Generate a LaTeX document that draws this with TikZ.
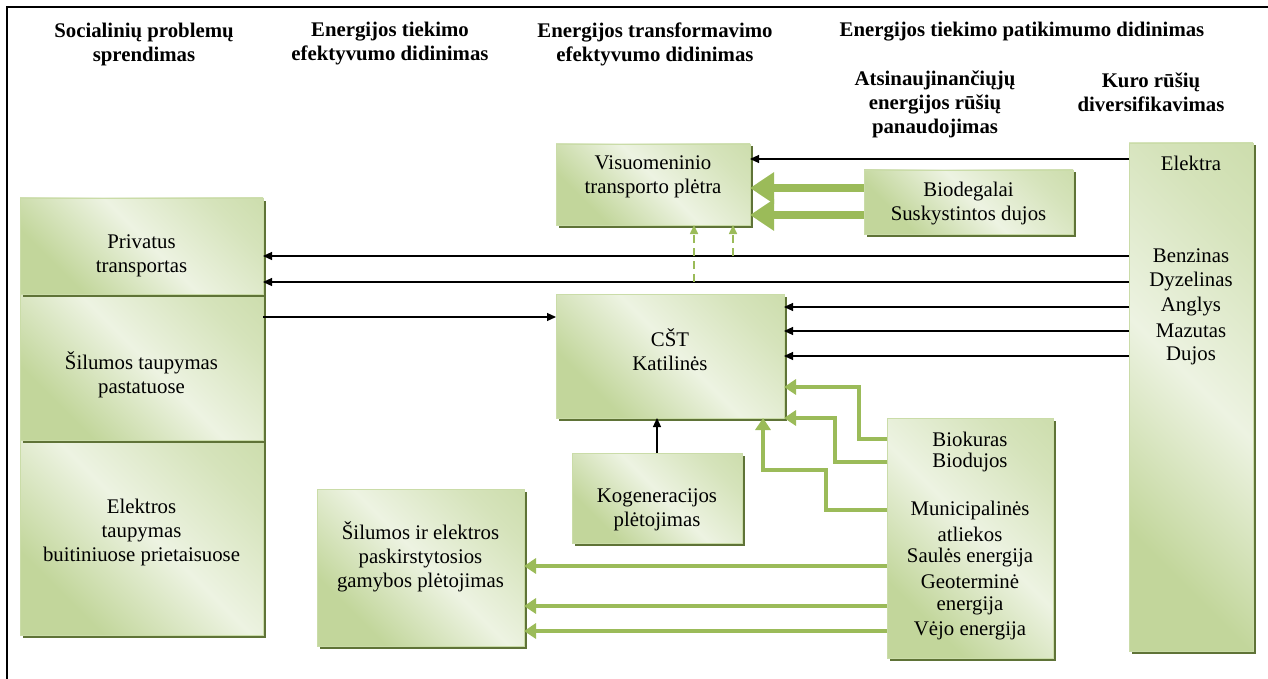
\documentclass[tikz,border=0pt]{standalone}
\usepackage{fontspec}
\setmainfont{Liberation Serif}
\usetikzlibrary{arrows.meta,shadows}

\definecolor{boxdark}{RGB}{194,214,155}
\definecolor{boxlight}{RGB}{237,243,226}
\definecolor{boxedge}{RGB}{202,220,168}
\definecolor{boxshadow}{RGB}{95,115,55}
\definecolor{arrowgreen}{RGB}{155,187,89}

\pgfdeclarehorizontalshading{boxshade}{100bp}{color(0bp)=(boxdark); color(28bp)=(boxdark); color(52bp)=(boxlight); color(74bp)=(boxdark!55!boxlight); color(100bp)=(boxdark)}

\newcommand{\diagfont}{\fontsize{20.8}{24}\selectfont}

\begin{document}
\begin{tikzpicture}[x=1pt, y=-1pt, >={Triangle[length=9pt,width=8pt]},
    gbox/.style={draw=boxedge, line width=0.8pt, shading=boxshade, shading angle=45,
      drop shadow={shadow xshift=2.5pt, shadow yshift=-2.5pt, fill=boxshadow, opacity=1},
      inner sep=0pt, outer sep=0pt},
    txt/.style={align=center, inner sep=0pt, font=\diagfont},
    hdr/.style={align=center, inner sep=0pt, font=\diagfont\bfseries},
    blk/.style={->, line width=1.2pt},
    fatgreen/.style={-{Triangle[length=24pt,width=30pt]}, line width=8pt, arrowgreen},
    midgreen/.style={-{Triangle[length=12pt,width=15pt]}, line width=4pt, arrowgreen},
    dashgreen/.style={->, line width=1.6pt, arrowgreen, dash pattern=on 8pt off 5pt}]
    \useasboundingbox (0,0) rectangle (1268,679);

    % Frame
    \draw[line width=1.2pt] (1268,7) -- (7,7) -- (7,679);

    % Headers
    \node[hdr] (hsoc) at (144,44) {Socialinių problemų\\sprendimas};
    \node[hdr] (htiek) at (390,44) {Energijos tiekimo\\efektyvumo didinimas};
    \node[hdr] (htrans) at (655,44) {Energijos transformavimo\\efektyvumo didinimas};
    \node[hdr] (hpat) at (1022,32) {Energijos tiekimo patikimumo didinimas};
    \node[hdr] (hatsin) at (935,104) {Atsinaujinančiųjų\\energijos rūšių\\panaudojimas};
    \node[hdr] (hkuro) at (1151,92) {Kuro rūšių\\diversifikavimas};

    % Boxes
    \node[gbox, minimum width=243, minimum height=195] (elek) at (141.5,537.5) {};
    \node[gbox, minimum width=243, minimum height=146] (silum) at (141.5,367) {};
    \node[gbox, minimum width=243, minimum height=96] (priv) at (141.5,246) {};
    \node[gbox, minimum width=194, minimum height=81] (visu) at (653,184.5) {};
    \node[gbox, minimum width=209, minimum height=64] (biodeg) at (968.5,202) {};
    \node[gbox, minimum width=124, minimum height=508] (kuro) at (1191,397) {};
    \node[gbox, minimum width=228, minimum height=124] (cst) at (670,356) {};
    \node[gbox, minimum width=170, minimum height=90] (kog) at (657,498) {};
    \node[gbox, minimum width=207, minimum height=157] (dist) at (420.5,567.5) {};
    \node[gbox, minimum width=166, minimum height=240] (bio) at (970,538) {};

    % Box texts
    \node[txt] (privt) at (141.5,256) {Privatus\\transportas};
    \node[txt] (silumt) at (141.5,375) {Šilumos taupymas\\pastatuose};
    \node[txt] (elekt) at (141.5,532) {Elektros\\taupymas\\buitiniuose prietaisuose};
    \node[txt] (visut) at (653,177) {Visuomeninio\\transporto plėtra};
    \node[txt] (biodegt) at (968.5,203.5) {Biodegalai\\Suskystintos dujos};
    \node[txt] (cstt) at (670,350) {CŠT\\Katilinės};
    \node[txt] (kogt) at (657,510) {Kogeneracijos\\plėtojimas};
    \node[txt] (distt) at (420.5,557) {Šilumos ir elektros\\paskirstytosios\\gamybos plėtojimas};

    \node[txt] (elektra) at (1191,163) {Elektra};
    \node[txt] (benz) at (1191,256) {Benzinas};
    \node[txt] (dyz) at (1191,282) {Dyzelinas};
    \node[txt] (angl) at (1191,307) {Anglys};
    \node[txt] (maz) at (1191,331) {Mazutas};
    \node[txt] (duj) at (1191,356) {Dujos};

    \node[txt] (biok) at (970,439) {Biokuras};
    \node[txt] (biod) at (970,462) {Biodujos};
    \node[txt] (munic) at (970,510) {Municipalinės};
    \node[txt] (atl) at (970,534) {atliekos};
    \node[txt] (saul) at (970,558) {Saulės energija};
    \node[txt] (geo) at (970,582) {Geoterminė};
    \node[txt] (energ) at (970,606) {energija};
    \node[txt] (vejo) at (970,631) {Vėjo energija};

    % Helper points
    \coordinate (elrow) at (0,159);
    \coordinate (cstin) at ([yshift=-23pt]cst.north west);
    \coordinate (dashA) at ([xshift=41pt]visu.south);
    \coordinate (dashB) at ([xshift=80pt]visu.south);
    \coordinate (kink) at ([xshift=-21pt]cst.south east);
    \coordinate (saulrow) at (0,566);

    % Fuel supply
    \draw[blk] (kuro.west |- elrow) -- (visu.east |- elrow);
    \draw[blk] (kuro.west |- benz) -- (priv.east |- benz);
    \draw[blk] (kuro.west |- dyz) -- (priv.east |- dyz);
    \draw[blk] (kuro.west |- angl) -- (cst.east |- angl);
    \draw[blk] (kuro.west |- maz) -- (cst.east |- maz);
    \draw[blk] (kuro.west |- duj) -- (cst.east |- duj);
    \draw[blk] (cstin -| silum.east) -- (cstin);
    \draw[blk] (kog.north) -- (kog.north |- cst.south);

    % Dashed links to public transport
    \draw[dashgreen] (dashA |- dyz) -- (dashA);
    \draw[dashgreen] (dashB |- benz) -- (dashB);

    % Biofuels
    \draw[fatgreen] ([yshift=14pt]biodeg.west) -- ([yshift=14pt]biodeg.west -| visu.east);
    \draw[fatgreen] ([yshift=-13pt]biodeg.west) -- ([yshift=-13pt]biodeg.west -| visu.east);

    % Renewables to district heating
    \draw[midgreen] (bio.west |- biok) -| ([xshift=75pt,yshift=-31pt]cst.east) -- ([yshift=-31pt]cst.east);
    \draw[midgreen] (bio.west |- biod) -| ([xshift=51pt]cst.south east) -- (cst.south east);
    \draw[midgreen] (bio.west |- munic) -| ([xshift=63pt,yshift=-52pt]kink) -| (kink);

    % Renewables to distributed generation
    \draw[midgreen] (bio.west |- saulrow) -- (dist.east |- saulrow);
    \draw[midgreen] (bio.west |- energ) -- (dist.east |- energ);
    \draw[midgreen] (bio.west |- vejo) -- (dist.east |- vejo);
\end{tikzpicture}
\end{document}
